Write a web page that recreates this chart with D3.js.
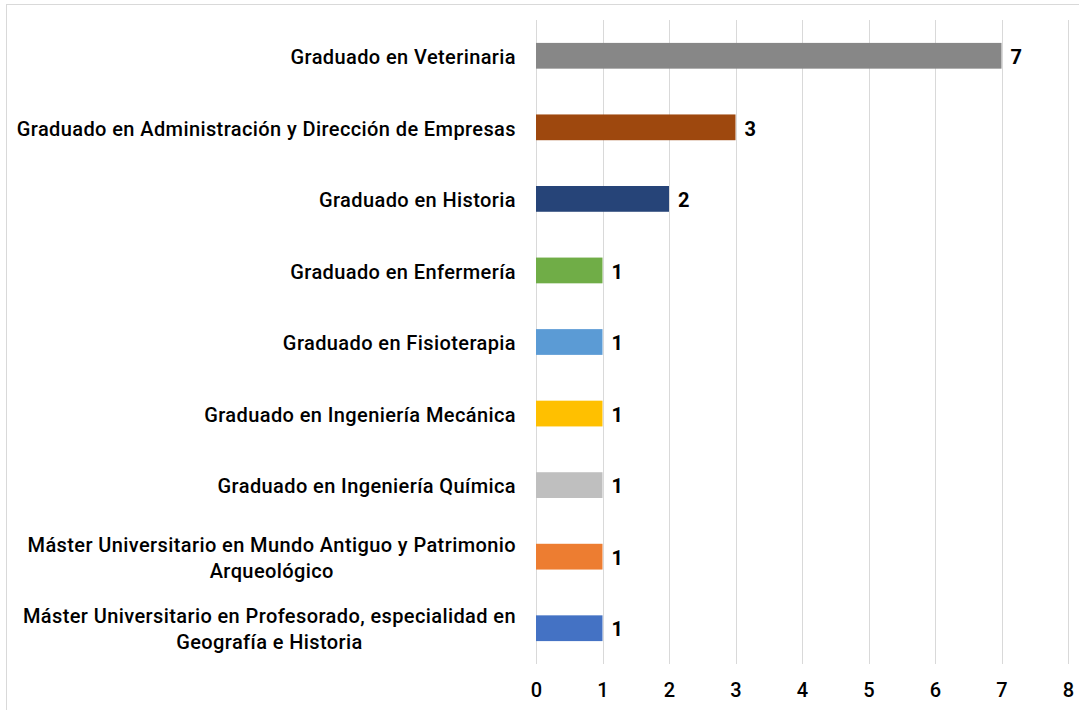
<!DOCTYPE html>
<html><head><meta charset="utf-8">
<script src="https://cdn.jsdelivr.net/npm/d3@7"></script>
<style>
html,body{margin:0;padding:0;background:#fff;}
svg{display:block;}
text{font-family:Roboto, "DejaVu Sans Condensed", sans-serif;fill:#000;}
</style></head>
<body>
<script>
const categories = [
  "Graduado en Veterinaria",
  "Graduado en Administración y Dirección de Empresas",
  "Graduado en Historia",
  "Graduado en Enfermería",
  "Graduado en Fisioterapia",
  "Graduado en Ingeniería Mecánica",
  "Graduado en Ingeniería Química",
  "Máster Universitario en Mundo Antiguo y Patrimonio\nArqueológico",
  "Máster Universitario en Profesorado, especialidad en\nGeografía e Historia"
];
const values = [7, 3, 2, 1, 1, 1, 1, 1, 1];
const colors = ["#878787", "#9E480E", "#264478", "#70AD47", "#5B9BD5", "#FFC000", "#BFBFBF", "#ED7D31", "#4472C4"];
const xTicks = [0, 1, 2, 3, 4, 5, 6, 7, 8];

(function () {
const W = 1079, H = 710;
const FS = 20;
const svg = d3.select("body").append("svg").attr("width", W).attr("height", H);

svg.append("rect").attr("x", 6.5).attr("y", 4.5).attr("width", W).attr("height", H)
  .attr("fill", "#fff").attr("stroke", "#d9d9d9").attr("stroke-width", 1);

const mLeft = 536, mRight = 1068, mTop = 20, mBottom = 664;
const x = d3.scaleLinear().domain([0, 8]).range([mLeft, mRight]);
const y = d3.scaleBand().domain(categories).range([mTop, mBottom]).paddingInner(0.64).paddingOuter(0.32);

// gridlines
svg.append("g").selectAll("line").data(xTicks).join("line")
  .attr("x1", d => Math.round(x(d)) + 0.5).attr("x2", d => Math.round(x(d)) + 0.5)
  .attr("y1", mTop).attr("y2", mBottom)
  .attr("stroke", "#d9d9d9").attr("stroke-width", 1);

// x axis tick labels
const xAxis = d3.axisBottom(x).tickValues(xTicks).tickSize(0).tickPadding(0).tickFormat(d3.format("d"));
const gx = svg.append("g").attr("transform", `translate(0,${mBottom + 19})`).call(xAxis);
gx.select(".domain").remove();
gx.selectAll("text").attr("font-size", FS).attr("font-weight", 500)
  .style("font-family", "Roboto, sans-serif").attr("fill", "#000");

// bars
svg.append("g").selectAll("rect").data(categories).join("rect")
  .attr("x", x(0)).attr("y", d => y(d))
  .attr("width", (d, i) => x(values[i]) - x(0))
  .attr("height", y.bandwidth())
  .attr("fill", (d, i) => colors[i]);

// value labels
svg.append("g").selectAll("text").data(categories).join("text")
  .attr("x", (d, i) => x(values[i]) + 9)
  .attr("y", d => y(d) + y.bandwidth() / 2 + 1)
  .attr("dy", "0.36em")
  .attr("font-size", FS).attr("font-weight", 700)
  .text((d, i) => values[i]);

// category labels
const labelRight = 516;
const lineH = 26;
categories.forEach(c => {
  const lines = c.split("\n");
  const cy = y(c) + y.bandwidth() / 2 + 1;
  const g = svg.append("g");
  const ts = lines.map((ln, k) => g.append("text")
    .attr("font-size", FS).attr("font-weight", 500)
    .style("letter-spacing", "0.4px")
    .attr("y", cy + (k - (lines.length - 1) / 2) * lineH)
    .attr("dy", "0.36em").text(ln));
  if (lines.length === 1) {
    ts[0].attr("x", labelRight).attr("text-anchor", "end");
  } else {
    const maxW = d3.max(ts, t => t.node().getComputedTextLength());
    ts.forEach(t => t.attr("x", labelRight - maxW / 2).attr("text-anchor", "middle"));
  }
});
})();
</script>
</body></html>
